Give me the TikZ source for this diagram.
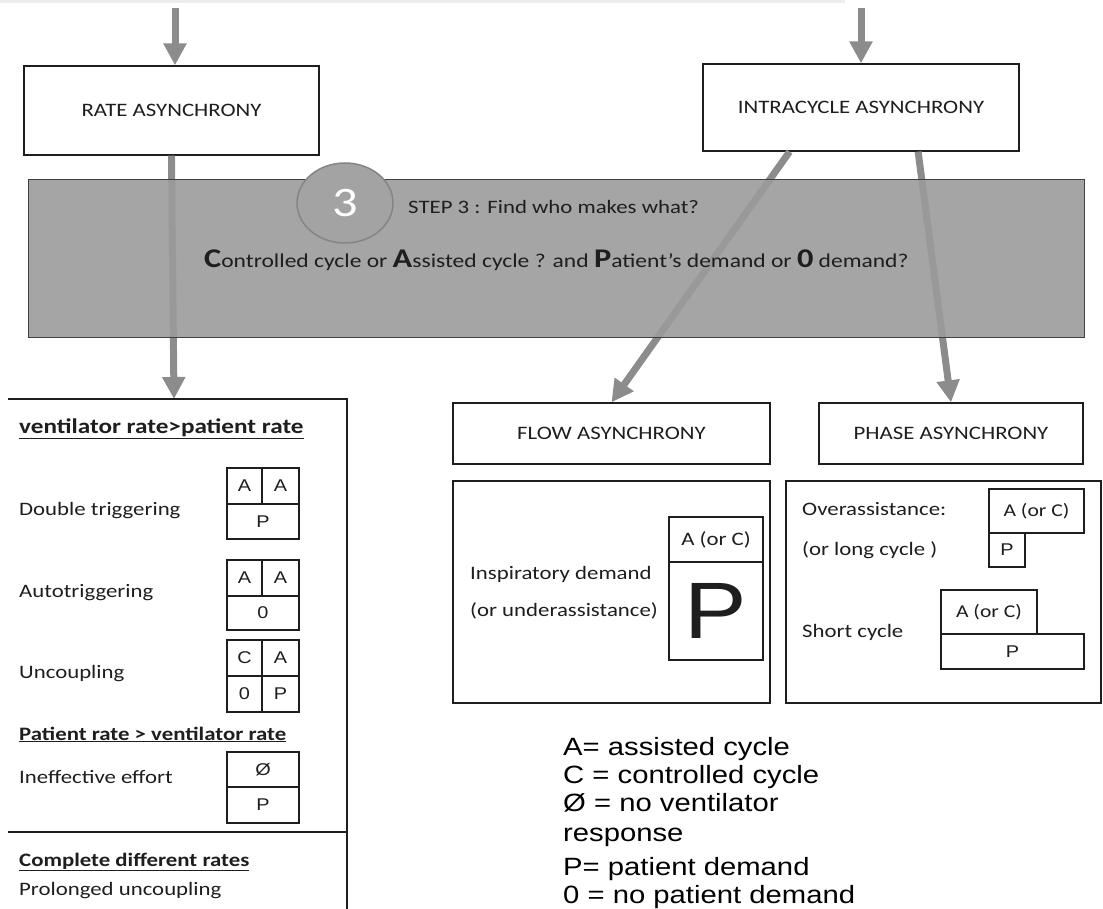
\documentclass[tikz,border=0pt]{standalone}
\usepackage{fontspec}
\setmainfont{Carlito}[FakeStretch=1.2]
\newfontfamily\legendfont{Liberation Sans}[FakeStretch=1.17]
\usetikzlibrary{arrows.meta,calc,shapes.geometric}
\definecolor{arrowgray}{HTML}{8C8C8C}
\definecolor{bandgray}{HTML}{9B9B9B}
\definecolor{ringgray}{HTML}{858585}
\definecolor{ink}{HTML}{1E1E1E}
\newcommand\initletter[1]{{\fontsize{27}{27}\selectfont\bfseries #1}}
\tikzset{
  fs/.style={font=\fontsize{#1}{#1}\selectfont},
  lf/.style={font=\legendfont\fontsize{#1}{#1}\selectfont},
  bigarrow/.style={draw=arrowgray, line width=7pt, -{Triangle[width=22pt,length=22pt]}},
  framebox/.style={draw=ink, line width=1.3pt, fill=white, inner sep=0pt, fs=19, text=ink},
  cell/.style={draw=ink, line width=1.2pt, inner sep=0pt, lf=17, text=ink},
  acell/.style={draw=ink, line width=1.2pt, inner sep=0pt, fs=18, text=ink},
  label/.style={anchor=base west, inner sep=0pt, fs=19, text=ink},
  legend/.style={anchor=base west, inner sep=0pt, lf=25, text=black},
  stepband/.style={draw=black!75, line width=1pt, fill=bandgray, fill opacity=0.9, inner sep=0pt},
  stepnum/.style={ellipse, draw=ringgray, line width=1.5pt, fill=bandgray!92!white, inner sep=0pt,
    text=white, fs=42}
}
\begin{document}
\begin{tikzpicture}[x=1pt,y=-1pt]
\useasboundingbox (0,0) rectangle (1103,909);
\fill[black!7] (0,0) rectangle (845,3);

% first level: the two kinds of asynchrony
\node[framebox, minimum width=295, minimum height=89] (rate) at (171.5,110.5) {RATE ASYNCHRONY};
\node[framebox, minimum width=316, minimum height=87] (intra) at (861,107.5) {INTRACYCLE ASYNCHRONY};
\coordinate (inA) at (175,8);
\coordinate (inB) at (861,8);
\draw[bigarrow] (inA) -- (inA |- rate.north);
\draw[bigarrow] (inB) -- (intra.north);

% second level: flow and phase
\node[framebox, minimum width=317, minimum height=61] (flow) at (611.5,433.5) {FLOW ASYNCHRONY};
\node[framebox, minimum width=264, minimum height=61] (phase) at (951,433.5) {PHASE ASYNCHRONY};
\coordinate (rtip) at (174,399);
\draw[bigarrow] (rate.south) -- (rtip);
\draw[bigarrow] ($(intra.south west)!0.275!(intra.south east)$) -- (flow.north);
\draw[bigarrow] ($(intra.south west)!0.68!(intra.south east)$) -- (phase.north);

% step 3 band
\node[stepband, minimum width=1056, minimum height=157] (band) at (556,258.5) {};
\node[stepnum, minimum width=96, minimum height=80] (num) at (345,203) {3};
\node[label] (steptxt) at (408,214) {STEP 3 : Find who makes what?};
\node[label, fs=19.6] (question) at (204,268)
  {\initletter{C}ontrolled cycle or \initletter{A}ssisted cycle ? and \initletter{P}atient’s demand or \initletter{0} demand?};

% rate asynchrony list
\draw[draw=ink, line width=1.3pt] (8,399) -- (347,399) -- (347,912);
\draw[draw=ink, line width=1.3pt] (8,832) -- (347,832);
\node[label, fs=21] (h1) at (19,433) {\underline{\bfseries ventilator rate>patient rate}};
\node[label] (dt) at (19,515) {Double triggering};
\node[label] (at) at (19,597) {Autotriggering};
\node[label] (uc) at (19,678) {Uncoupling};
\node[label] (h2) at (19,740) {\underline{\bfseries Patient rate > ventilator rate}};
\node[label] (ie) at (19,783) {Ineffective effort};
\node[label] (h3) at (19,866) {\underline{\bfseries Complete different rates}};
\node[label] (pu) at (19,895) {Prolonged uncoupling};

\node[cell, minimum width=35, minimum height=36] (g1a) at (244.5,486) {A};
\node[cell, minimum width=37, minimum height=36] (g1b) at (280.5,486) {A};
\node[cell, minimum width=72, minimum height=35] (g1c) at (263,521.5) {P};

\node[cell, minimum width=35, minimum height=36] (g2a) at (244.5,578) {A};
\node[cell, minimum width=37, minimum height=36] (g2b) at (280.5,578) {A};
\node[cell, minimum width=72, minimum height=34] (g2c) at (263,613) {0};

\node[cell, minimum width=35, minimum height=36] (g3a) at (244.5,658) {C};
\node[cell, minimum width=37, minimum height=36] (g3b) at (280.5,658) {A};
\node[cell, minimum width=35, minimum height=36] (g3c) at (244.5,694) {0};
\node[cell, minimum width=37, minimum height=36] (g3d) at (280.5,694) {P};

\node[cell, minimum width=72, minimum height=35] (g4a) at (263,769.5) {Ø};
\node[cell, minimum width=72, minimum height=36] (g4b) at (263,805) {P};

% flow asynchrony detail
\node[framebox, minimum width=317, minimum height=222] (flowbody) at (611.5,592) {};
\node[label] (fl1) at (470,579) {Inspiratory demand};
\node[label] (fl2) at (470,616) {(or underassistance)};
\node[acell, fs=19, minimum width=94, minimum height=45] (fa) at (716,539.5) {A (or C)};
\node[cell, lf=80, minimum width=94, minimum height=98] (fp) at (716,611) {P};

% phase asynchrony detail
\node[framebox, minimum width=315, minimum height=222] (phasebody) at (943.5,592) {};
\node[label] (ph1) at (802,515) {Overassistance:};
\node[label] (ph2) at (802,555) {(or long cycle )};
\node[label] (ph3) at (802,637) {Short cycle};
\node[acell, minimum width=95, minimum height=44] (pa1) at (1036.5,511) {A (or C)};
\node[cell, minimum width=36, minimum height=34] (pp1) at (1007,550) {P};
\node[acell, minimum width=96, minimum height=44] (pa2) at (989,612) {A (or C)};
\node[cell, minimum width=143, minimum height=35] (pp2) at (1012.5,651.5) {P};

% legend
\node[legend] (k1) at (563,755) {A= assisted cycle};
\node[legend] (k2) at (563,783) {C = controlled cycle};
\node[legend] (k3) at (563,811) {Ø = no ventilator};
\node[legend] (k4) at (563,841) {response};
\node[legend] (k5) at (563,875) {P= patient demand};
\node[legend] (k6) at (563,903) {0 = no patient demand};
\end{tikzpicture}
\end{document}
